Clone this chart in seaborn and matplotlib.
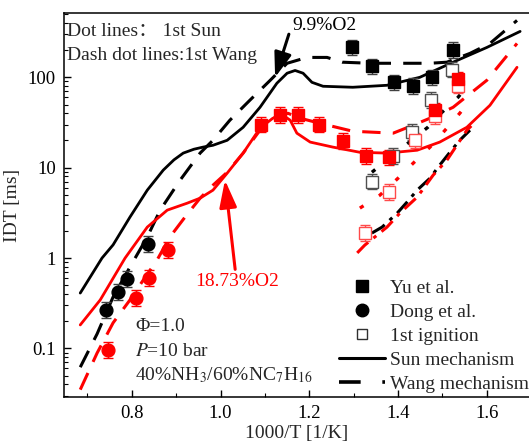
import matplotlib
matplotlib.use("Agg")
import matplotlib.pyplot as plt
from matplotlib.lines import Line2D
from matplotlib.ticker import FixedLocator, MultipleLocator, LogLocator, NullFormatter
import seaborn as sns
import numpy as np

# ---- measured ignition delay times (ms) vs 1000/T ----
# Yu et al. (filled squares)
yu_x_99 = [1.296, 1.341, 1.391, 1.434, 1.476, 1.524]
yu_y_99 = [214, 132, 88, 79.6, 100, 199]
yu_x_187 = [1.091, 1.134, 1.175, 1.222, 1.276, 1.328, 1.380, 1.483, 1.536]
yu_y_187 = [30, 38, 38, 30, 19.6, 13.4, 13.0, 43, 95]

# first-stage ignition (open squares)
first_x_99 = [1.341, 1.389, 1.432, 1.474, 1.522]
first_y_99 = [7.0, 13.5, 24.7, 55.7, 122]
first_x_187 = [1.326, 1.380, 1.438, 1.483, 1.536]
first_y_187 = [1.89, 5.4, 20, 37, 81]

# Dong et al. (filled circles)
dong_x_99 = [0.742, 0.769, 0.789, 0.837]
dong_y_99 = [0.266, 0.42, 0.59, 1.43]
dong_x_187 = [0.747, 0.810, 0.839, 0.882]
dong_y_187 = [0.096, 0.36, 0.60, 1.22]

# relative uncertainty of the measurements
rel_err = 0.22

# ---- simulations ----
sun_x_99 = [0.684, 0.733, 0.758, 0.796, 0.835, 0.871, 0.895, 0.916, 0.940, 0.961,
            0.983, 1.015, 1.051, 1.089, 1.127, 1.150, 1.168, 1.186, 1.206, 1.231,
            1.298, 1.375, 1.449, 1.524, 1.600, 1.675]
sun_y_99 = [0.41, 1.0, 1.4, 2.84, 5.64, 9.4, 12.2, 14.5, 16.0, 16.9,
            17.7, 20.1, 28.0, 46.6, 86, 111, 119, 111, 88, 79.6,
            77.6, 81.6, 100, 147, 214, 322]

wang_x_99 = [0.684, 0.722, 0.758, 0.796, 0.835, 0.864, 0.909, 0.954, 0.983, 1.021,
             1.066, 1.112, 1.150, 1.195, 1.240, 1.274, 1.337, 1.411, 1.472, 1.510,
             1.562, 1.607, 1.668]
wang_y_99 = [0.062, 0.145, 0.371, 0.795, 1.71, 3.39, 7.28, 14.5, 20.1, 33.5,
             55.7, 92.7, 143, 166, 166, 147, 143, 143, 143, 147,
             184, 237, 426]

sun_x_187 = [0.684, 0.729, 0.785, 0.835, 0.880, 0.925, 0.954, 0.983, 1.015, 1.051,
             1.089, 1.118, 1.141, 1.157, 1.172, 1.202, 1.253, 1.314, 1.375, 1.443,
             1.494, 1.555, 1.607, 1.668]
sun_y_187 = [0.182, 0.344, 1.0, 2.20, 3.39, 4.05, 4.60, 5.64, 8.7, 14.5,
             27.4, 35.3, 38.0, 33.5, 24.1, 19.2, 16.9, 14.8, 14.5, 15.6,
             19.2, 28.0, 49, 129]

wang_x_187 = [0.684, 0.722, 0.758, 0.796, 0.826, 0.857, 0.886, 0.920, 0.954, 0.983,
              1.015, 1.051, 1.089, 1.123, 1.152, 1.179, 1.224, 1.298, 1.389, 1.434,
              1.472, 1.524, 1.600, 1.668]
wang_y_187 = [0.035, 0.089, 0.192, 0.344, 0.571, 0.95, 1.71, 2.84, 4.6, 6.4,
              8.9, 14.5, 26, 36.2, 40, 35.3, 31.0, 25.3, 24.1, 29.5,
              35.3, 46.6, 92.7, 237]

# first-stage ignition, Sun mechanism (dotted)
sun1_x_99 = [1.341, 1.467, 1.499, 1.535, 1.544]
sun1_y_99 = [8.9, 28, 41, 60, 68]
sun1_x_187 = [1.314, 1.359, 1.400, 1.434, 1.472, 1.506, 1.539, 1.562]
sun1_y_187 = [3.57, 4.96, 7.65, 11.2, 16.9, 26.0, 40, 55.7]

# first-stage ignition, Wang mechanism (dash-dot)
wang1_x_99 = [1.341, 1.364, 1.398, 1.420, 1.443, 1.472, 1.490, 1.524, 1.539, 1.562]
wang1_y_99 = [1.89, 2.20, 3.14, 4.15, 5.64, 7.65, 10.1, 16.4, 20.1, 26]
wang1_x_187 = [1.308, 1.325, 1.375, 1.404, 1.443, 1.479, 1.510, 1.555, 1.565]
wang1_y_187 = [1.14, 1.39, 2.20, 3.14, 4.72, 8.26, 12.1, 26, 29]

x_ticks = [0.8, 1.0, 1.2, 1.4, 1.6]
x_tick_labels = ["0.8", "1.0", "1.2", "1.4", "1.6"]
y_ticks = [0.1, 1, 10, 100]
y_tick_labels = ["0.1", "1", "10", "100"]

RED = "#ff0000"
BLACK = "#000000"
FS = 14

sns.set_theme(style="ticks")
plt.rcParams["font.family"] = ["Liberation Serif", "DejaVu Serif"]
plt.rcParams["mathtext.fontset"] = "stix"
plt.rcParams["font.size"] = FS

fig = plt.figure(figsize=(5.29, 4.43), dpi=100)
ax = fig.add_axes([0.1215, 0.1038, 0.8785, 0.8669])

SOLID_LW = 2.0
DASH = (0, (6, 4))
DOT = (0, (1.3, 5.5))
DASHDOT = (0, (5, 2.2, 1.2, 2.2))


def curve(x, y, color, ls, lw=SOLID_LW):
    sns.lineplot(x=x, y=y, ax=ax, color=color, linestyle=ls, linewidth=lw,
                 sort=False, estimator=None, legend=False, zorder=2)


# simulated curves
curve(sun_x_99, sun_y_99, BLACK, "-")
curve(wang_x_99, wang_y_99, BLACK, DASH, 2.2)
curve(sun_x_187, sun_y_187, RED, "-")
curve(wang_x_187, wang_y_187, RED, DASH, 2.2)
curve(sun1_x_99, sun1_y_99, BLACK, DOT, 2.4)
curve(sun1_x_187, sun1_y_187, RED, DOT, 2.4)
curve(wang1_x_99, wang1_y_99, BLACK, DASHDOT, 2.2)
curve(wang1_x_187, wang1_y_187, RED, DASHDOT, 2.2)


def points(x, y, marker, face, edge, ecolor, ms):
    x = np.asarray(x)
    y = np.asarray(y)
    yerr = [y - y / (1 + rel_err), y * rel_err]
    ax.errorbar(x, y, yerr=yerr, fmt="none", ecolor=ecolor, elinewidth=1.0,
                capsize=3.8, capthick=1.0, zorder=3)
    ax.plot(x, y, linestyle="none", marker=marker, markerfacecolor=face,
            markeredgecolor=edge, markeredgewidth=1.0, markersize=ms, zorder=4)


points(first_x_99, first_y_99, "s", "white", "#505050", "#505050", 8.0)
points(first_x_187, first_y_187, "s", "white", "#ff4a4a", "#ff4a4a", 8.0)
points(yu_x_99, yu_y_99, "s", BLACK, BLACK, "#404040", 8.2)
points(yu_x_187, yu_y_187, "s", RED, RED, RED, 8.2)
points(dong_x_99, dong_y_99, "o", BLACK, BLACK, "#404040", 9.2)
points(dong_x_187, dong_y_187, "o", RED, RED, RED, 9.2)

# axes
ax.set_yscale("log")
ax.set_xlim(0.648, 1.695)
ax.set_ylim(0.029, 515)
ax.xaxis.set_major_locator(FixedLocator(x_ticks))
ax.set_xticklabels(x_tick_labels)
ax.xaxis.set_minor_locator(MultipleLocator(0.1))
ax.yaxis.set_major_locator(FixedLocator(y_ticks))
ax.set_yticklabels(y_tick_labels)
ax.yaxis.set_minor_locator(LogLocator(base=10, subs=np.arange(2, 10)))
ax.yaxis.set_minor_formatter(NullFormatter())
ax.tick_params(which="major", direction="in", length=5, width=1.0,
               labelsize=13.5, colors=BLACK, pad=6)
ax.tick_params(which="minor", direction="in", length=3, width=0.8, colors=BLACK)
ax.tick_params(axis="x", which="both", top=False)
ax.tick_params(axis="y", which="both", right=False)
for side in ("left", "bottom", "top"):
    ax.spines[side].set_color(BLACK)
    ax.spines[side].set_linewidth(1.1)
ax.spines["right"].set_visible(False)
ax.set_facecolor("white")
ax.grid(False)

ax.set_xlabel("1000/T [1/K]", fontsize=FS, labelpad=2)
ax.set_ylabel("IDT [ms]", fontsize=FS, labelpad=5)

# annotations
ax.text(0.0055, 0.953, "Dot lines： 1st Sun", transform=ax.transAxes,
        fontsize=FS, ha="left", va="center",
        family=["Liberation Serif", "Noto Sans CJK SC"])
ax.text(0.0055, 0.888, "Dash dot lines:1st Wang", transform=ax.transAxes,
        fontsize=FS, ha="left", va="center")
ax.text(1.161, 375, "9.9%O2", fontsize=FS, ha="left", va="center", color=BLACK)
ax.annotate("", xy=(1.123, 100), xytext=(1.154, 300),
            arrowprops=dict(arrowstyle="-|>,head_length=1.0,head_width=0.35",
                            mutation_scale=15, lw=2.2, color=BLACK,
                            shrinkA=0, shrinkB=0))
ax.text(1.038, 0.55, "18.73%O2", fontsize=FS, ha="center", va="center", color=RED)
ax.annotate("", xy=(1.010, 7.3), xytext=(1.033, 0.75),
            arrowprops=dict(arrowstyle="-|>,head_length=1.1,head_width=0.35",
                            mutation_scale=15, lw=2.2, color=RED,
                            shrinkA=0, shrinkB=0))
ax.text(0.8076, 0.173, "Φ=1.0", fontsize=FS, ha="left", va="center")
ax.text(0.8076, 0.092, "$P$=10 bar", fontsize=FS, ha="left", va="center")
ax.text(0.8076, 0.051, "40%NH$_3$/60%NC$_7$H$_{16}$", fontsize=FS,
        ha="left", va="center")

# legend
handles = [
    Line2D([], [], linestyle="none", marker="s", markersize=8, color=BLACK),
    Line2D([], [], linestyle="none", marker="o", markersize=9, color=BLACK),
    Line2D([], [], linestyle="none", marker="s", markersize=7.5,
           markerfacecolor="white", markeredgecolor="#303030"),
    Line2D([], [], color=BLACK, linewidth=2.2, linestyle="-"),
    Line2D([], [], color=BLACK, linewidth=2.6, linestyle=(0, (6, 6))),
]
labels = ["Yu et al.", "Dong et al.", "1st ignition", "Sun mechanism", "Wang mechanism"]
ax.legend(handles, labels, loc="lower left", bbox_to_anchor=(0.583, 0.0),
          frameon=False, fontsize=FS, handlelength=2.37, handletextpad=0.26,
          labelspacing=0.33, borderpad=0.2, borderaxespad=0.0)

fig.savefig("out.png", dpi=100, facecolor="white")
